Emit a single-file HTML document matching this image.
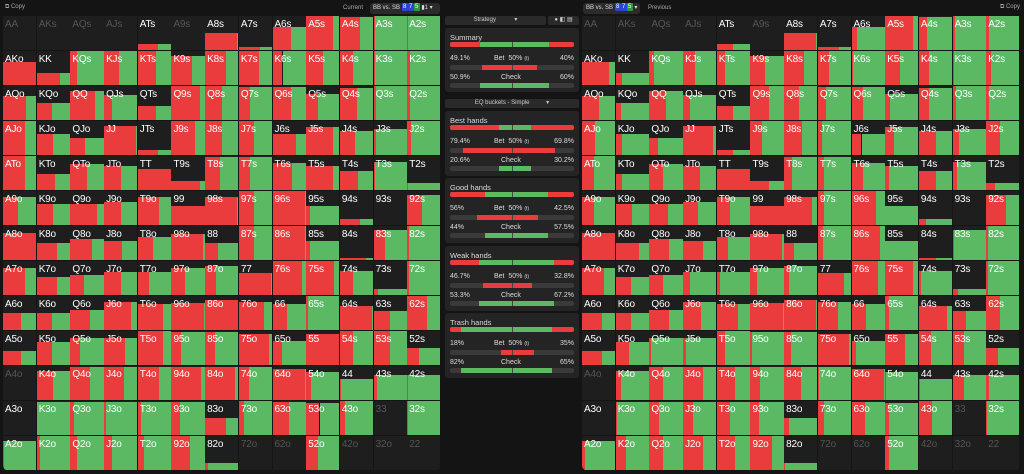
<!DOCTYPE html>
<html><head><meta charset="utf-8">
<style>
*{margin:0;padding:0;box-sizing:border-box}
body{width:1024px;height:474px;background:#141414;overflow:hidden;position:relative;font-family:"Liberation Sans",sans-serif;color:#ddd}
.a{position:absolute}
.grid{position:absolute;top:16px;width:438px;height:455px;background:#1d1d1d;border-radius:0 0 6px 6px;overflow:hidden}
.c{position:absolute;background:#1e1e1e;border-right:1px solid #151515;border-bottom:1px solid #151515;overflow:hidden}
.c .r{position:absolute;bottom:0;left:0;background:#ea3c3c}
.c .g{position:absolute;bottom:0;right:0;background:#5bb964}
.c span{position:absolute;left:2px;top:3px;font-size:10px;color:#fff;z-index:2;letter-spacing:-0.2px}
.c span.d{color:#555}
.box{position:absolute;left:445px;width:134px;background:#242424;border-radius:3px}
.t{position:absolute;font-size:7px;color:#ddd}
.bar{position:absolute;left:450px;width:124px;height:5px;background:#3a3a3a;border-radius:2px;overflow:hidden}
.bar div{position:absolute;top:0;height:5px}
.dd{position:absolute;left:445px;width:134px;height:9px;background:#2a2a2a;border-radius:2px;font-size:6px;color:#ccc;text-align:center;line-height:9px}
.hdr{font-size:6px;color:#aaa}
.sel{position:absolute;top:3px;height:11px;background:#2b2b2b;border-radius:3px;font-size:6px;color:#ddd;line-height:11px}
.n{display:inline-block;width:6px;height:8px;line-height:8px;text-align:center;color:#fff;font-size:6px;border-radius:1px;vertical-align:middle}
</style></head><body>
<div class="a hdr" style="left:5px;top:4px">⧉ Copy</div>
<div class="a hdr" style="left:343px;top:5px">Current</div>
<div class="sel" style="left:370px;width:70px;padding-left:3px">BB vs. SB <span class="n" style="background:#2a45d8">8</span><span class="n" style="background:#2a45d8">7</span><span class="n" style="background:#2a9a3a">5</span> ▮1 ▾</div>
<div class="sel" style="left:583px;width:57px;padding-left:3px">BB vs. SB <span class="n" style="background:#2a45d8">8</span><span class="n" style="background:#2a45d8">7</span><span class="n" style="background:#2a9a3a">5</span> ▾</div>
<div class="a hdr" style="left:648px;top:5px">Previous</div>
<div class="a hdr" style="left:1000px;top:4px">⧉ Copy</div>
<div class="grid" id="L" style="left:3px"></div>
<div class="grid" id="R" style="left:582px"></div>
<div class="dd" style="top:16px;width:101px">Strategy &nbsp;&nbsp;&nbsp;&nbsp;&nbsp;&nbsp;&nbsp;&nbsp;&nbsp;&nbsp;▾</div>
<div class="dd" style="top:16px;left:548px;width:31px">● ◧ ▤</div>
<div class="dd" style="top:99px">EQ buckets - Simple &nbsp;&nbsp;&nbsp;&nbsp;&nbsp;&nbsp;&nbsp;&nbsp;&nbsp;▾</div>
<div id="M"></div>
<script>
const ranks="AKQJT98765432";
const H=[
[0,0,0,0,.17,0,.5,.08,.65,1,.95,1,1],
[.65,.35,.97,.97,.97,.82,.97,.97,.97,.97,.97,1,1],
[.68,.5,.82,.72,.4,1,1,.95,.95,.75,.92,1,1],
[.97,.6,.5,.82,.13,1,.97,.97,.6,.8,.7,.73,1],
[1,.45,.75,.7,.6,.25,.95,.95,.77,.7,.55,.8,.2],
[.8,.6,.6,.65,.8,.55,.8,1,1,.55,.17,0,.85],
[.77,.5,.6,.55,.65,.75,.5,1,1,.55,.05,.85,1],
[.77,.52,.58,.67,.67,.77,.84,.64,.97,.97,.69,.17,.97],
[.5,.5,.57,.8,.74,.76,.87,.79,.74,1,.7,.55,.96],
[.4,.65,.78,.78,.97,.93,.93,.89,.7,.89,1,.97,.48],
[0,.84,.95,.95,.95,.95,.95,.95,.9,.79,.6,.71,.71],
[0,.93,.93,.95,.95,.95,.5,.98,.95,.92,1,0,1],
[.84,1,1,1,1,1,.2,0,0,1,0,0,0]];
const RL=[
[0,0,0,0,.6,0,.95,.65,.55,.8,.6,.05,.03],
[1,.7,.2,.45,.55,.63,.62,.6,.3,.5,.4,.03,.08],
[.7,.45,.75,.25,.55,.85,.5,.35,.55,.35,.5,.08,.08],
[.65,.5,.45,.95,.6,.7,.5,.45,.7,.8,.45,.08,.12],
[.65,.55,.5,.5,1,.85,.45,.35,.6,.8,.55,.03,.03],
[.45,.5,.8,.5,.65,1,.97,.45,.97,.1,.6,0,.45],
[1,.6,.65,.55,.45,.95,.4,.45,.97,.1,.8,.35,.05],
[.65,.6,.4,.5,.33,.4,.33,.97,.9,.85,.4,.12,.05],
[.55,.45,.6,.8,.75,.97,1,.75,.45,.05,.97,.5,.6],
[.55,.45,.3,.62,.75,.3,.3,.9,.28,1,.4,.5,.35],
[0,.5,.6,.6,.65,.9,.9,.3,.97,.15,.02,.1,.03],
[0,.02,.1,.05,.1,.25,.62,.15,.5,.4,.15,0,.03],
[.02,.1,.2,.25,.2,.55,.1,0,0,.35,0,0,0]];
const RR=[
[0,0,0,0,.5,0,.95,.65,.15,.85,.25,.08,.08],
[.8,.2,.13,.35,.25,.45,.6,.35,.05,.45,.3,.05,.15],
[.5,.15,.5,.2,.5,.55,.45,.25,.35,.15,.3,.1,.08],
[.4,.2,.25,.9,.5,.35,.55,.13,.3,.25,.5,.2,.4],
[.35,.2,.4,.5,1,.55,.25,.2,.35,.1,.5,.12,.25],
[.35,.5,.55,.45,.4,1,.85,.2,.75,0,.2,0,.6],
[1,.7,.6,.6,.35,.95,.3,.15,.85,0,.5,.05,.05],
[.65,.45,.4,.2,.1,.2,.15,.8,.8,.85,.05,.15,.05],
[.6,.45,.6,.55,.65,.97,.97,.6,.45,.1,.85,.4,.4],
[.6,.4,.05,.1,.25,.05,.2,.95,.12,.6,.35,.35,.35],
[0,.15,.4,.6,.55,.3,.5,.02,.97,.02,.02,.35,.08],
[0,.05,.3,.3,.4,.25,.15,.2,.4,.1,.4,0,.02],
[.1,.3,.4,.6,.55,.65,.02,0,0,.1,0,0,0]];
const dim=new Set(["AA","AKs","AQs","AJs","A9s","A4o","33","72o","62o","42o","32o","22"]);
function build(id,RF){
 const g=document.getElementById(id);let h="";
 const cw=438/13,ch=35;
 for(let i=0;i<13;i++)for(let j=0;j<13;j++){
  let lab=i==j?ranks[i]+ranks[j]:(j>i?ranks[i]+ranks[j]+"s":ranks[j]+ranks[i]+"o");
  const x=j*cw,y=i*ch,hh=H[i][j]*ch,rf=RF[i][j];
  h+=`<div class="c" style="left:${x}px;top:${y}px;width:${cw+0.5}px;height:${ch}px">`;
  if(hh>0){h+=`<div class="r" style="height:${hh}px;width:${rf*100}%"></div><div class="g" style="height:${hh}px;width:${(1-rf)*100}%"></div>`;}
  h+=`<span class="${dim.has(lab)?'d':''}">${lab}</span></div>`;
 }
 g.innerHTML=h;
}
build("L",RL);build("R",RR);
const M=document.getElementById("M");let m="";
function sec(top,bot,title,b1,b2,c1,c2){
 m+=`<div class="box" style="top:${top}px;height:${bot-top}px"></div>`;
 m+=`<div class="t" style="left:450px;top:${top+5}px;font-size:7.5px">${title}</div>`;
 const half=62,cx=512;
 // summary bar
 let y=top+14;
 m+=`<div class="bar" style="top:${y}px">
 <div style="left:0;width:${half}px;background:#ea3c3c"></div>
 <div style="left:${half-c1*half}px;width:${c1*half}px;background:#5bb964"></div>
 <div style="left:${half}px;width:${half}px;background:#ea3c3c"></div>
 <div style="left:${half}px;width:${c2*half}px;background:#5bb964"></div>
 <div style="left:${half}px;width:1px;background:#444"></div></div>`;
 y=top+27;
 m+=`<div class="t" style="left:450px;top:${y}px">${(b1*100).toFixed(1).replace('.0','')}%</div><div class="t" style="left:494px;top:${y}px">Bet&nbsp; 50% <span style="font-size:5px">(t)</span></div><div class="t" style="right:450px;top:${y}px;text-align:right">${(b2*100).toFixed(1).replace('.0','')}%</div>`;
 m+=`<div class="bar" style="top:${y+10}px"><div style="left:${half-b1*half}px;width:${b1*half}px;background:#ea3c3c"></div><div style="left:${half}px;width:${b2*half}px;background:#ea3c3c"></div><div style="left:${half}px;width:1px;background:#444"></div></div>`;
 y=top+46;
 m+=`<div class="t" style="left:450px;top:${y}px">${(c1*100).toFixed(1).replace('.0','')}%</div><div class="t" style="left:501px;top:${y}px">Check</div><div class="t" style="right:450px;top:${y}px;text-align:right">${(c2*100).toFixed(1).replace('.0','')}%</div>`;
 m+=`<div class="bar" style="top:${y+9}px"><div style="left:${half-c1*half}px;width:${c1*half}px;background:#5bb964"></div><div style="left:${half}px;width:${c2*half}px;background:#5bb964"></div><div style="left:${half}px;width:1px;background:#444"></div></div>`;
}
sec(28,92,"Summary",.491,.40,.509,.60);
sec(111,176,"Best hands",.794,.698,.206,.302);
sec(178,243,"Good hands",.56,.425,.44,.575);
sec(246,311,"Weak hands",.467,.328,.533,.672);
sec(313,378,"Trash hands",.18,.35,.82,.65);
M.innerHTML=m;
</script>
</body></html>
